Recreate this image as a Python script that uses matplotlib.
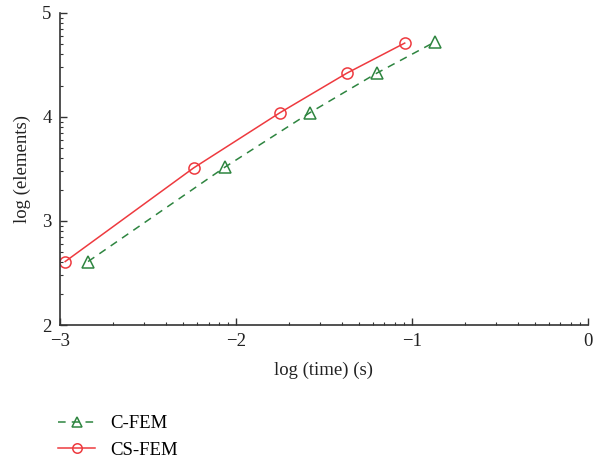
import numpy as np
import matplotlib
matplotlib.use("Agg")
from matplotlib import pyplot as plt
from matplotlib.ticker import FixedLocator

plt.rcParams['font.family'] = ['Liberation Serif', 'DejaVu Serif']

# log(time) and log(elements)
cfem_time = [-2.84, -2.06, -1.58, -1.20, -0.87]
cfem_elem = [2.61, 3.52, 4.04, 4.42, 4.72]
csfem_time = [-2.97, -2.24, -1.75, -1.37, -1.04]
csfem_elem = [2.61, 3.51, 4.04, 4.42, 4.71]

green = '#2e8540'
red = '#ee3a3f'
axcol = '#333333'

fig = plt.figure(figsize=(5.93, 4.62), dpi=100)
ax = fig.add_axes([0.101, 0.2965, 0.890, 0.6755])

l1, = ax.plot(cfem_time, cfem_elem, '--', color=green, lw=1.1, dashes=(5, 4),
              marker='^', ms=8, mfc='none', mec=green, mew=1.1, label='C-FEM')
l2, = ax.plot(csfem_time, csfem_elem, '-', color=red, lw=1.1,
              marker='o', ms=8, mfc='none', mec=red, mew=1.1, label='CS-FEM')

ax.set_xlim(-3, 0)
ax.set_ylim(2, 5)
ax.set_xticks([-3, -2, -1, 0])
ax.set_yticks([2, 3, 4, 5])
ax.set_xticklabels(['\u22123', '\u22122', '\u22121', '0'])

# decade-style minor ticks
logs = np.log10(np.arange(2, 10))
ax.xaxis.set_minor_locator(FixedLocator([d + v for d in (-3, -2, -1) for v in logs]))
ax.yaxis.set_minor_locator(FixedLocator([d + v for d in (2, 3, 4) for v in logs]))

for s in ['top', 'right']:
    ax.spines[s].set_visible(False)
for s in ['left', 'bottom']:
    ax.spines[s].set_color(axcol)
    ax.spines[s].set_linewidth(1.2)

ax.tick_params(which='major', direction='in', length=5, width=1, colors=axcol,
               labelsize=13.5, labelcolor='#222222', pad=6)
ax.tick_params(which='minor', direction='in', length=2.5, width=0.8, colors=axcol)

ax.set_xlabel('log (time) (s)', fontsize=13.5, color='#222222', labelpad=8)
ax.set_ylabel('log (elements)', fontsize=13.5, color='#222222', labelpad=8)

fig.legend(handles=[l1, l2], loc='upper left', bbox_to_anchor=(0.085, 0.118),
           frameon=False, fontsize=13.5, handlelength=2.0, handletextpad=0.8,
           labelspacing=0.5, borderaxespad=0, markerscale=0.85)

fig.savefig('out.png', dpi=100)
